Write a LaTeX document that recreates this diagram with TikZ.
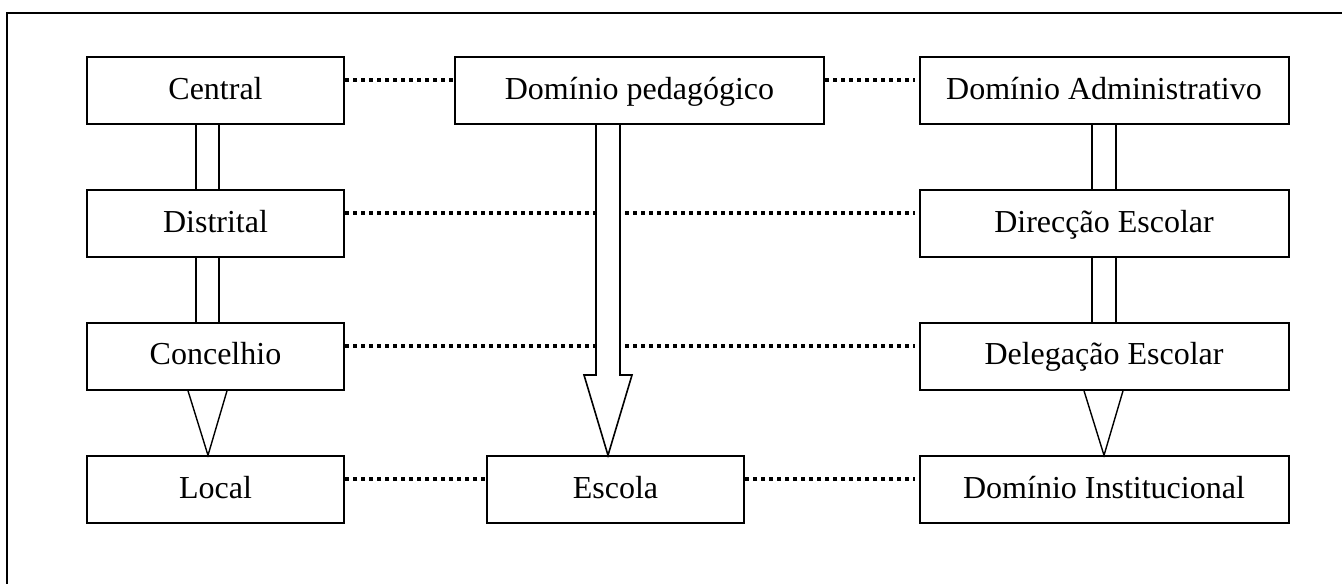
\documentclass[tikz,border=0pt]{standalone}
\usepackage{fontspec}
\setmainfont{Liberation Serif}
\usetikzlibrary{calc}
\begin{document}
\begin{tikzpicture}[x=0.5pt,y=-0.5pt,
  box/.style={draw, line width=1pt, inner sep=0pt, minimum height=33.5pt,
    text height=11.5pt, text depth=3pt,
    font=\fontsize{16}{19}\selectfont},
  narrowbox/.style={box, minimum width=128.5pt},
  widebox/.style={box, minimum width=184.5pt},
  link/.style={line width=0.7pt},
  dotline/.style={line width=1.9pt, dash pattern=on 2pt off 2pt},
  bigarrow/.style={line width=0.8pt, fill=white, line join=miter}]
\useasboundingbox (0,0) rectangle (1342,583);
% outer frame (runs past the page on the right and bottom)
\draw[line width=0.7pt] (7,613) -- (7,13) -- (1372,13);

% left column
\node[narrowbox] (central)   at (215.5,90.5)  {Central};
\node[narrowbox] (distrital) at (215.5,223.8) {Distrital};
\node[narrowbox] (concelhio) at (215.5,356.3) {Concelhio};
\node[narrowbox] (local)     at (215.5,489.8) {Local};

% middle column
\node[widebox]   (pedag)  at (639.5,90.5)  {Domínio pedagógico};
\node[narrowbox] (escola) at (615.5,489.8) {Escola};

% right column
\node[widebox] (admin)  at (1104,90.5)  {Domínio Administrativo};
\node[widebox] (direc)  at (1104,223.8) {Direcção Escolar};
\node[widebox] (deleg)  at (1104,356.3) {Delegação Escolar};
\node[widebox] (instit) at (1104,489.8) {Domínio Institucional};

% dotted horizontal links
\draw[dotline] ($(central.east)+(0,-10.5)$)   -- ($(pedag.west)+(0,-10.5)$);
\draw[dotline] ($(pedag.east)+(0,-10.5)$)     -- ($(admin.west)+(-4,-10.5)$);
\draw[dotline] ($(distrital.east)+(0,-10.5)$) -- ($(direc.west)+(-4,-10.5)$);
\draw[dotline] ($(concelhio.east)+(0,-10.5)$) -- ($(deleg.west)+(-4,-10.5)$);
\draw[dotline] ($(local.east)+(0,-10.5)$)     -- ($(escola.west)+(0,-10.5)$);
\draw[dotline] ($(escola.east)+(0,-10.5)$)    -- ($(instit.west)+(-4,-10.5)$);

% left column: double bars and triangle
\foreach \a/\b in {central/distrital, distrital/concelhio}{
  \draw[link] ($(\a.south)+(-19.5,0)$) -- ($(\b.north)+(-19.5,0)$);
  \draw[link] ($(\a.south)+(3.5,0)$)   -- ($(\b.north)+(3.5,0)$);
}
\draw[link] ($(concelhio.south)+(-27.5,0)$) -- ($(local.north)+(-7.5,0)$)
  -- ($(concelhio.south)+(11.5,0)$);

% right column: double bars and triangle
\foreach \a/\b in {admin/direc, direc/deleg}{
  \draw[link] ($(\a.south)+(-12,0)$) -- ($(\b.north)+(-12,0)$);
  \draw[link] ($(\a.south)+(12,0)$)  -- ($(\b.north)+(12,0)$);
}
\draw[link] ($(deleg.south)+(-20,0)$) -- ($(instit.north)+(0,0)$)
  -- ($(deleg.south)+(19,0)$);

% large hollow arrow from the pedagogical domain to the school
\draw[bigarrow] ($(pedag.south)+(-43.5,0)$) -- ($(pedag.south)+(-43.5,250)$)
  -- ($(pedag.south)+(-55.5,250)$) -- ($(escola.north)+(-7.5,0)$)
  -- ($(pedag.south)+(-7.5,250)$) -- ($(pedag.south)+(-19.5,250)$)
  -- ($(pedag.south)+(-19.5,0)$);
\end{tikzpicture}
\end{document}
